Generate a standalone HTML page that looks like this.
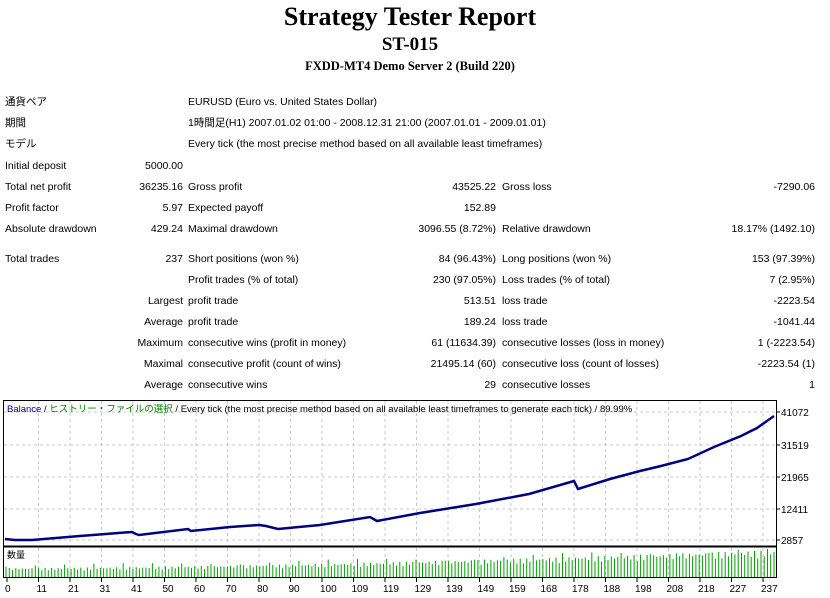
<!DOCTYPE html>
<html><head><meta charset="utf-8"><style>
body{margin:0;width:830px;height:598px;background:#fff;overflow:hidden;position:relative;font-family:"Liberation Sans","Noto Sans CJK JP",sans-serif;font-size:10.5px;color:#000}
.t{position:absolute;white-space:nowrap;line-height:12px}
.r{text-align:right}
h1,h2,h3{position:absolute;left:0;width:820px;text-align:center;margin:0;font-family:"Liberation Serif",serif;font-weight:bold}
</style></head><body>
<h1 style="top:2px;font-size:26px">Strategy Tester Report</h1>
<h2 style="top:34px;font-size:19px">ST-015</h2>
<h3 style="top:59px;font-size:12.5px">FXDD-MT4 Demo Server 2 (Build 220)</h3>
<div id="tbl"></div>
<svg id="ch" style="position:absolute;left:0;top:0" width="830" height="598"></svg>
<script>
var rows=[
[96,"通貨ペア","","EURUSD (Euro vs. United States Dollar)","","",""],
[117,"期間","","1時間足(H1) 2007.01.02 01:00 - 2008.12.31 21:00 (2007.01.01 - 2009.01.01)","","",""],
[138,"モデル","","Every tick (the most precise method based on all available least timeframes)","","",""],
[160,"Initial deposit","5000.00","","","",""],
[181,"Total net profit","36235.16","Gross profit","43525.22","Gross loss","-7290.06"],
[202,"Profit factor","5.97","Expected payoff","152.89","",""],
[223,"Absolute drawdown","429.24","Maximal drawdown","3096.55 (8.72%)","Relative drawdown","18.17% (1492.10)"],
[253,"Total trades","237","Short positions (won %)","84 (96.43%)","Long positions (won %)","153 (97.39%)"],
[274,"","","Profit trades (% of total)","230 (97.05%)","Loss trades (% of total)","7 (2.95%)"],
[295,"","Largest","profit trade","513.51","loss trade","-2223.54"],
[316,"","Average","profit trade","189.24","loss trade","-1041.44"],
[337,"","Maximum","consecutive wins (profit in money)","61 (11634.39)","consecutive losses (loss in money)","1 (-2223.54)"],
[358,"","Maximal","consecutive profit (count of wins)","21495.14 (60)","consecutive loss (count of losses)","-2223.54 (1)"],
[379,"","Average","consecutive wins","29","consecutive losses","1"]];
var h="";
rows.forEach(function(r){var y=r[0];
 if(r[1])h+='<div class="t" style="left:5px;top:'+y+'px">'+r[1]+'</div>';
 if(r[2])h+='<div class="t r" style="right:'+(830-183)+'px;top:'+y+'px">'+r[2]+'</div>';
 if(r[3])h+='<div class="t" style="left:188px;top:'+y+'px">'+r[3]+'</div>';
 if(r[4])h+='<div class="t r" style="right:'+(830-496)+'px;top:'+y+'px">'+r[4]+'</div>';
 if(r[5])h+='<div class="t" style="left:502px;top:'+y+'px">'+r[5]+'</div>';
 if(r[6])h+='<div class="t r" style="right:'+(830-815)+'px;top:'+y+'px">'+r[6]+'</div>';});
document.getElementById('tbl').innerHTML=h;
var s='';
s+='<rect x="3.5" y="400.5" width="773" height="177" fill="#fff" stroke="#000"/>';
s+='<line x1="3" y1="546.5" x2="777" y2="546.5" stroke="#000" stroke-width="2"/>';
var xl=[0,11,21,31,41,50,60,70,80,90,100,109,119,129,139,149,159,168,178,188,198,208,218,227,237];
for(var i=0;i<25;i++){var x=7+i*31.5;
 if(i>0)s+='<line x1="'+x+'" y1="401" x2="'+x+'" y2="545" stroke="#c8c8c8" stroke-dasharray="3,3"/><line x1="'+x+'" y1="548" x2="'+x+'" y2="577" stroke="#c8c8c8" stroke-dasharray="3,3"/>';
 s+='<line x1="'+x+'" y1="578" x2="'+x+'" y2="582" stroke="#000"/>';
 s+='<text x="'+(x-2)+'" y="592" font-size="10" font-family="Liberation Sans">'+xl[i]+'</text>';}
var yl=[[412,"41072"],[445,"31519"],[477,"21965"],[509,"12411"],[540,"2857"]];
yl.forEach(function(a){s+='<line x1="4" y1="'+a[0]+'" x2="776" y2="'+a[0]+'" stroke="#c8c8c8" stroke-dasharray="3,3"/><line x1="776" y1="'+a[0]+'" x2="780" y2="'+a[0]+'" stroke="#000"/><text x="781" y="'+(a[0]+4)+'" font-size="10" font-family="Liberation Sans">'+a[1]+'</text>';});
s+='<text x="7" y="412" font-size="9.5" font-family="Liberation Sans,Noto Sans CJK JP,sans-serif"><tspan fill="#000080">Balance</tspan> / <tspan fill="#008000">ヒストリー・ファイルの選択</tspan> / Every tick (the most precise method based on all available least timeframes to generate each tick) / 89.99%</text>';
s+='<text x="7" y="558" font-size="9" font-family="Noto Sans CJK JP,sans-serif">数量</text>';
s+='<polyline fill="none" stroke="#000080" stroke-width="2.5" points="5,539 15,540 32,540 80,536 132,532 136,534 139,535 188,529 191,531 230,527 259,525 266,526 278,529 320,525 370,517 377,521 420,513 476,504 529,494 574,481 578,489 610,479 640,471 661,466 688,459 714,447 741,436 757,428 774,416"/>';
var b='';
for(var k=0;k<237;k++){var x=6+k*768/236;var base=9+18*Math.pow(k/236,1.6);var v=base*(0.7+0.3*Math.abs(Math.sin(k*1.7)))+(k%9==0?4:0);if(v>28)v=28;
 b+='<line x1="'+x.toFixed(1)+'" y1="577" x2="'+x.toFixed(1)+'" y2="'+(577-v).toFixed(1)+'" stroke="#00a000" stroke-width="1"/>';}
s+=b;
document.getElementById('ch').innerHTML=s;
</script>
</body></html>
